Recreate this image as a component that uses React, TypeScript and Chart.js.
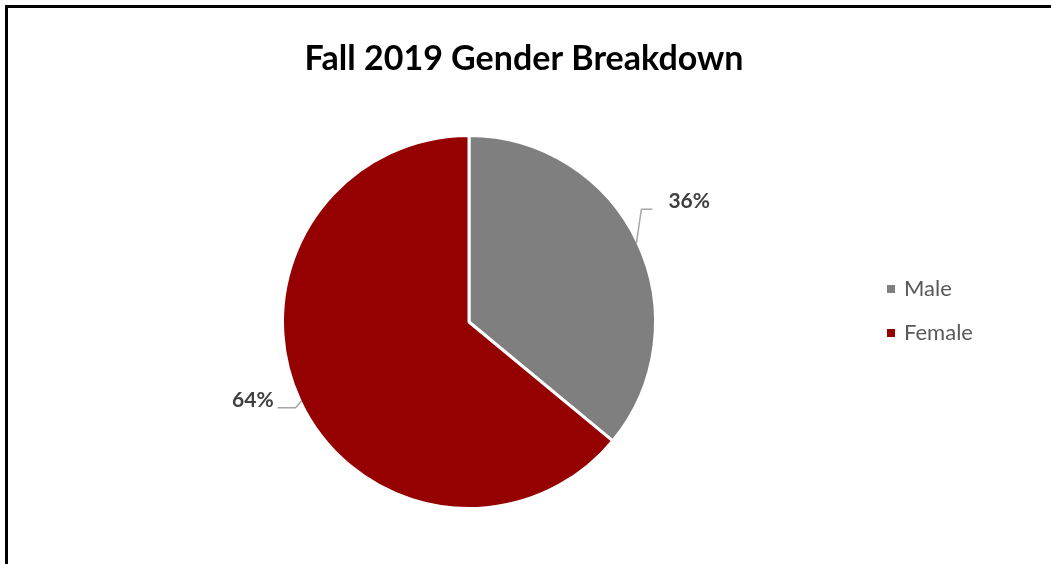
import React, { useEffect, useRef } from "react";
import { Chart, registerables } from "chart.js";

Chart.register(...registerables);

const TITLE = "Fall 2019 Gender Breakdown";
const categories = ["Male", "Female"];
const values = [36, 64];
const colors = ["#7f7f7f", "#950000"];

// label offsets relative to the slice edge point (elbow, end, text anchor)
const leader = [
  { elbow: [5, -34], end: [16, -34], text: [32, -42], align: "left" },
  { elbow: [-6, 7], end: [-24, 7], text: [-28, -1], align: "right" },
];

const FONT = "Lato, 'Open Sans', 'Liberation Sans', sans-serif";

const overlayPlugin = {
  id: "overlay",
  afterDraw(chart: any) {
    const ctx = chart.ctx as CanvasRenderingContext2D;
    const meta = chart.getDatasetMeta(0);
    const total = values.reduce((a, b) => a + b, 0);
    ctx.save();
    // title
    ctx.fillStyle = "#000000";
    ctx.font = `bold 34px ${FONT}`;
    ctx.textAlign = "center";
    ctx.textBaseline = "alphabetic";
    ctx.fillText(TITLE, 524, 70);

    // data labels with leader lines
    meta.data.forEach((arc: any, i: number) => {
      const { x, y, startAngle, endAngle } = arc.getProps(
        ["x", "y", "startAngle", "endAngle"],
        true
      );
      const outer = arc.outerRadius - 1.5;
      const mid = (startAngle + endAngle) / 2;
      const ex = x + Math.cos(mid) * outer;
      const ey = y + Math.sin(mid) * outer;
      const l = leader[i];
      ctx.strokeStyle = "#a6a6a6";
      ctx.lineWidth = 1.5;
      ctx.beginPath();
      ctx.moveTo(ex, ey);
      ctx.lineTo(ex + l.elbow[0], ey + l.elbow[1]);
      ctx.lineTo(ex + l.end[0], ey + l.end[1]);
      ctx.stroke();
      ctx.fillStyle = "#404040";
      ctx.font = `bold 21px ${FONT}`;
      ctx.textAlign = l.align as CanvasTextAlign;
      ctx.textBaseline = "middle";
      const pct = Math.round((values[i] / total) * 100) + "%";
      ctx.fillText(pct, ex + l.text[0], ey + l.text[1]);
    });

    // legend
    ctx.font = `22px ${FONT}`;
    ctx.textAlign = "left";
    ctx.textBaseline = "middle";
    categories.forEach((c, i) => {
      const ly = 289 + i * 44;
      ctx.fillStyle = colors[i];
      ctx.fillRect(887, ly - 4, 8, 8);
      ctx.fillStyle = "#595959";
      ctx.fillText(c, 904, ly);
    });
    ctx.restore();
  },
};

export default function App() {
  const ref = useRef<HTMLCanvasElement>(null);
  useEffect(() => {
    if (!ref.current) return;
    const chart = new Chart(ref.current, {
      type: "pie",
      data: {
        labels: categories,
        datasets: [
          {
            data: values,
            backgroundColor: colors,
            borderColor: "#ffffff",
            borderWidth: 3,
          },
        ],
      },
      options: {
        responsive: false,
        animation: false,
        layout: { padding: { left: 281, top: 134, right: 394, bottom: 54 } },
        plugins: {
          legend: { display: false },
          title: { display: false },
          tooltip: { enabled: false },
        },
      },
      plugins: [overlayPlugin],
    });
    return () => chart.destroy();
  }, []);
  return (
    <div
      style={{
        position: "fixed",
        left: 0,
        top: 0,
        width: 1051,
        height: 564,
        background: "#ffffff",
        overflow: "hidden",
      }}
    >
      <canvas ref={ref} width={1051} height={564} style={{ display: "block" }} />
      <div
        style={{
          position: "absolute",
          left: 5,
          top: 5,
          width: 1100,
          height: 700,
          border: "3px solid #000000",
          pointerEvents: "none",
        }}
      />
    </div>
  );
}
